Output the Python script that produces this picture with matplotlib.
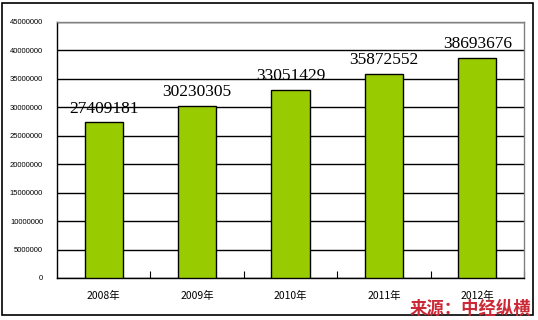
import matplotlib.pyplot as plt
from matplotlib.patches import Rectangle
import numpy as np

YEARS = ["2008年", "2009年", "2010年", "2011年", "2012年"]
VALUES = [27409181, 30230305, 33051429, 35872552, 38693676]
Y_TICKS = list(range(0, 45000001, 5000000))
SOURCE = "来源：中经纵横"

CJK = ["Noto Sans CJK SC", "DejaVu Sans"]


def main():
    fig = plt.figure(figsize=(5.38, 3.2), dpi=100)
    ax = fig.add_axes([57 / 538, 42 / 320, 467 / 538, 256 / 320])

    x = np.arange(len(VALUES))
    ax.bar(x, VALUES, width=0.41, color="#99CC00", edgecolor="black",
           linewidth=1.0, zorder=3)

    for xi, v in zip(x, VALUES):
        ax.annotate(str(v), (xi, v), xytext=(0, 4), textcoords="offset points",
                    ha="center", va="bottom", fontsize=12.5,
                    family="Liberation Serif", zorder=4)

    ax.set_xlim(-0.5, len(VALUES) - 0.5)
    ax.set_ylim(0, 45000000)
    ax.set_yticks(Y_TICKS)
    ax.set_yticklabels([str(t) for t in Y_TICKS], fontsize=5.5,
                       family="Liberation Sans")
    ax.tick_params(axis="y", length=0, pad=10)
    ax.yaxis.grid(True, color="black", linewidth=1.0, zorder=1)

    ax.set_xticks(x + 0.5, minor=False)
    ax.set_xticklabels([])
    ax.tick_params(axis="x", which="major", direction="in", length=5,
                   width=0.8)
    ax.set_xticks(x, minor=True)
    ax.set_xticklabels(YEARS, minor=True, fontsize=7.5, family=CJK)
    ax.tick_params(axis="x", which="minor", length=0, pad=9)

    for side in ("top", "right"):
        ax.spines[side].set_color("#808080")
    for side in ("left", "bottom"):
        ax.spines[side].set_color("black")
    for s in ax.spines.values():
        s.set_linewidth(1.0)

    fig.patches.append(Rectangle((2 / 538, 5 / 320), 531 / 538, 312 / 320,
                                 transform=fig.transFigure, fill=False,
                                 edgecolor="black", linewidth=1.2))

    fig.text(531 / 538, 11 / 320, SOURCE, ha="right", va="center",
             fontsize=12.5, fontweight="bold", color="#CC2936", family=CJK)

    fig.savefig("out.png", dpi=100)


if __name__ == "__main__":
    main()
